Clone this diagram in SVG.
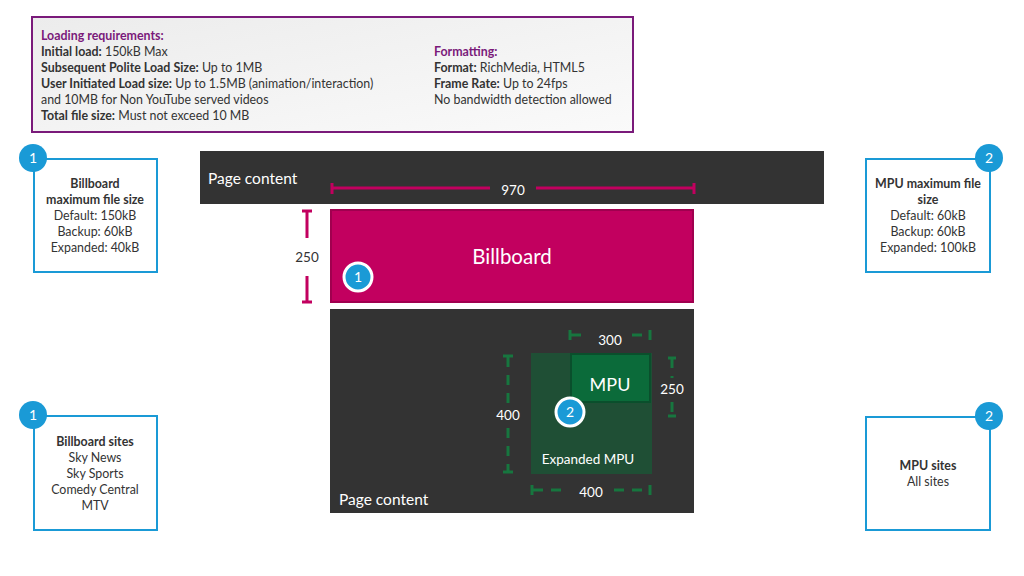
<svg xmlns="http://www.w3.org/2000/svg" width="1024" height="576" viewBox="0 0 1024 576">
<defs>
<linearGradient id="gbg" x1="0" y1="0" x2="1" y2="1">
<stop offset="0" stop-color="#ececec"/><stop offset="1" stop-color="#fafafa"/>
</linearGradient>
<style>
text{font-family:Lato,"Noto Sans","Liberation Sans",sans-serif}
.t{font-size:12.4px;fill:#333}
.b{font-weight:bold}
.p{fill:#7a1a7a;font-weight:bold}
.info{fill:#fff;stroke:#1a9ad6;stroke-width:2}
.badge{fill:#1a9ad6}
.bt{font-size:14px;fill:#fff;text-anchor:middle}
.c{text-anchor:middle}
.w{fill:#fff}
.mag{stroke:#c2005f;stroke-width:3;fill:none}
.gd{stroke:#17763f;stroke-width:3;fill:none;stroke-dasharray:10 8}
.gs{stroke:#17763f;stroke-width:3;fill:none}
</style>
</defs>
<rect width="1024" height="576" fill="#fff"/>

<g id="requirements">
<rect x="32" y="17" width="601" height="115" fill="url(#gbg)" stroke="#7a1a7a" stroke-width="2"/>
<text class="t p" x="41" y="40">Loading requirements:</text>
<text class="t" x="41" y="56"><tspan class="b">Initial load:</tspan> 150kB Max</text>
<text class="t" x="41" y="72"><tspan class="b">Subsequent Polite Load Size:</tspan> Up to 1MB</text>
<text class="t" x="41" y="88"><tspan class="b">User Initiated Load size:</tspan> Up to 1.5MB (animation/interaction)</text>
<text class="t" x="41" y="104">and 10MB for Non YouTube served videos</text>
<text class="t" x="41" y="120"><tspan class="b">Total file size:</tspan> Must not exceed 10 MB</text>
<text class="t p" x="434" y="56">Formatting:</text>
<text class="t" x="434" y="72"><tspan class="b">Format:</tspan> RichMedia, HTML5</text>
<text class="t" x="434" y="88"><tspan class="b">Frame Rate:</tspan> Up to 24fps</text>
<text class="t" x="434" y="104">No bandwidth detection allowed</text>
</g>

<g id="page-top">
<rect x="200" y="151" width="624" height="53" fill="#333"/>
<text x="208" y="184" font-size="15.5" class="w">Page content</text>
</g>

<g id="billboard">
<rect x="331" y="210" width="362" height="92" fill="#c2005f" stroke="#a0004f" stroke-width="2"/>
<text x="512" y="264" font-size="20.5" class="w c">Billboard</text>
</g>

<g id="page-bottom">
<rect x="330" y="309" width="364" height="204" fill="#333"/>
<text x="339" y="505" font-size="15.5" class="w">Page content</text>
</g>

<g id="expanded-mpu">
<rect x="531" y="353" width="121" height="121" fill="#1f4f35"/>
<text x="588" y="464" font-size="13.5" class="w c">Expanded MPU</text>
</g>

<g id="mpu">
<rect x="571" y="354" width="79" height="48" fill="#0b6b3a" stroke="#0a4f2c" stroke-width="2"/>
<text x="610" y="391" font-size="18" class="w c">MPU</text>
</g>

<g id="dimensions">
<path class="mag" d="M332 188H490M536 188H694M332 183V194M694 183V194"/>
<rect x="492" y="181" width="43" height="23" fill="#333"/>
<text x="513" y="195" font-size="13.5" class="w c">970</text>
<path class="mag" d="M307 211V238M307 276V302M302 211H312M302 302H312"/>
<text x="307" y="262" font-size="13.5" class="c" fill="#333">250</text>
<path class="gs" d="M570 330V340M650 330V340M668 358H676M668 416H676"/>
<path class="gd" d="M571 335H589M632 335H650"/>
<text x="610" y="345" font-size="13.5" class="w c">300</text>
<path class="gd" d="M672 358V378M672 402V416"/>
<text x="672" y="394" font-size="13.5" class="w c">250</text>
<path class="gs" d="M503 356H513M503 472H513"/>
<path class="gd" d="M508 357V404M508 428V472"/>
<text x="508" y="420" font-size="13.5" class="w c">400</text>
<path class="gs" d="M532 485V495M650 485V495"/>
<path class="gd" d="M533 490H566M614 490H650"/>
<text x="591" y="497" font-size="13.5" class="w c">400</text>
</g>

<g id="badge-billboard">
<circle cx="358" cy="277" r="14" class="badge" stroke="#fff" stroke-width="3"/>
<text x="358" y="282" class="bt">1</text>
</g>
<g id="badge-mpu">
<circle cx="570" cy="412" r="14" class="badge" stroke="#fff" stroke-width="3"/>
<text x="570" y="417" class="bt">2</text>
</g>

<g id="billboard-size">
<rect x="34" y="159" width="123" height="113" class="info"/>
<circle cx="33" cy="158" r="14" class="badge"/>
<text x="33" y="163" class="bt">1</text>
<text class="t b c" x="95" y="188">Billboard</text>
<text class="t b c" x="95" y="204">maximum file size</text>
<text class="t c" x="95" y="220">Default: 150kB</text>
<text class="t c" x="95" y="236">Backup: 60kB</text>
<text class="t c" x="95" y="252">Expanded: 40kB</text>
</g>

<g id="billboard-sites">
<rect x="34" y="416" width="123" height="114" class="info"/>
<circle cx="33" cy="415" r="14" class="badge"/>
<text x="33" y="420" class="bt">1</text>
<text class="t b c" x="95" y="446">Billboard sites</text>
<text class="t c" x="95" y="462">Sky News</text>
<text class="t c" x="95" y="478">Sky Sports</text>
<text class="t c" x="95" y="494">Comedy Central</text>
<text class="t c" x="95" y="510">MTV</text>
</g>

<g id="mpu-size">
<rect x="866" y="159" width="124" height="113" class="info"/>
<circle cx="989" cy="158" r="14" class="badge"/>
<text x="989" y="163" class="bt">2</text>
<text class="t b c" x="928" y="188">MPU maximum file</text>
<text class="t b c" x="928" y="204">size</text>
<text class="t c" x="928" y="220">Default: 60kB</text>
<text class="t c" x="928" y="236">Backup: 60kB</text>
<text class="t c" x="928" y="252">Expanded: 100kB</text>
</g>

<g id="mpu-sites">
<rect x="866" y="417" width="124" height="113" class="info"/>
<circle cx="989" cy="416" r="14" class="badge"/>
<text x="989" y="421" class="bt">2</text>
<text class="t b c" x="928" y="470">MPU sites</text>
<text class="t c" x="928" y="486">All sites</text>
</g>
</svg>
